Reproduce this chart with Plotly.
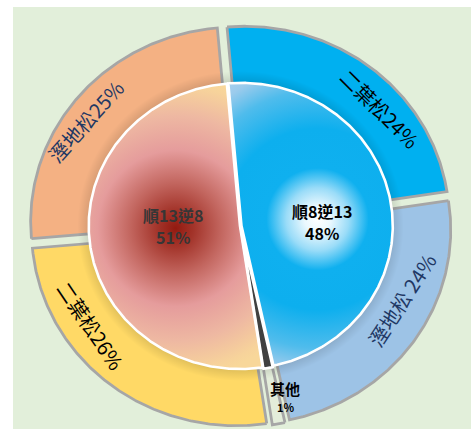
import numpy as np
import plotly.graph_objects as go

# ---------------- data ----------------
outer_names = ["二葉松", "溼地松", "其他", "二葉松", "溼地松"]
outer_values = [24, 24, 1, 26, 25]
outer_text = ["二葉松24%", "溼地松 24%", "", "二葉松26%", "溼地松25%"]
inner_names = ["順8逆13", "其他", "順13逆8"]
inner_values = [48, 1, 51]
inner_pct = ["48%", "1%", "51%"]

# ---------------- style / geometry ----------------
outer_colors = ["#00B0F0", "#9DC3E6", "#E3EDDA", "#FFD966", "#F4B183"]
outer_text_colors = ["#000000", "#1F3864", "#000000", "#000000", "#1F3864"]
outer_text_angles = [45, -57, 0, 56, -48]
outer_text_pos = [(380, 108), (401, 300), (0, 0), (91, 325), (85, 121)]
inner_name_pos = [(322, 211), (285, 388), (173, 215)]
inner_pct_pos = [(322, 233), (285, 407), (173, 237)]
inner_text_colors = ["#000000", "#000000", "#363636"]
inner_name_sizes = [16, 15, 16]
inner_pct_sizes = [16, 11, 16]

START = -5.0
CX, CY = 240.5, 226.0
ORX, ORY = 204.5, 194.5
IRX, IRY = 151.3, 143.0
PULL_OUT = 7.0
FONT = "Noto Sans CJK TC"

red_cs = [[0, "#931A10"], [0.12, "#A3342A"], [0.3, "#C2655E"], [0.52, "#E59C9C"],
          [0.75, "#EEB8A2"], [0.95, "#F7D39B"], [1, "#F8D79A"]]
blue_cs = [[0, "#FFFFFF"], [0.08, "#EAF8FE"], [0.19, "#9ADCF8"], [0.31, "#0FB0EF"],
           [0.55, "#0DAFEE"], [0.78, "#4FBCEC"], [0.92, "#9BCBEC"], [1, "#A9D0EE"]]


def edges(values):
    v = np.asarray(values, float)
    e = START + np.concatenate([[0], np.cumsum(v)]) / v.sum() * 360.0
    return e[:-1], e[1:]


def arc(rx, ry, a0, a1, ox=0.0, oy=0.0):
    n = max(int(abs(a1 - a0) * 2) + 2, 4)
    t = np.radians(np.linspace(a0, a1, n))
    return CX + ox + rx * np.sin(t), CY + oy - ry * np.cos(t)


def offset(a0, a1, pull, rx, ry):
    m = np.radians((a0 + a1) / 2)
    return pull * np.sin(m), -pull * (ry / rx) * np.cos(m)


fig = go.Figure()

# ---------------- outer ring ----------------
o0, o1 = edges(outer_values)
for i in range(len(outer_values)):
    ox, oy = offset(o0[i], o1[i], PULL_OUT, ORX, ORY)
    xo, yo = arc(ORX, ORY, o0[i], o1[i], ox, oy)
    xi, yi = arc(ORX * 0.6, ORY * 0.6, o1[i], o0[i], ox, oy)
    xs = np.concatenate([xo, xi, xo[:1]])
    ys = np.concatenate([yo, yi, yo[:1]])
    fig.add_trace(go.Scatter(x=xs, y=ys, mode="lines", fill="toself",
                             fillcolor=outer_colors[i],
                             line=dict(color="#A6A6A6", width=2.8),
                             hoverinfo="skip", name=outer_names[i]))

# soft shadow around the inner pie
xsd, ysd = arc(IRX + 12, IRY + 12, 0, 360)
fig.add_trace(go.Scatter(x=xsd, y=ysd, mode="lines", fill="toself",
                         line=dict(width=0),
                         fillgradient=dict(type="radial", colorscale=[
                             [0, "rgba(0,0,0,0.13)"], [0.92, "rgba(0,0,0,0.13)"],
                             [1, "rgba(0,0,0,0)"]]),
                         hoverinfo="skip"))

# ---------------- inner pie ----------------
i0, i1 = edges(inner_values)
inner_pulls = [1.0, 1.5, 0.5]
grad = {0: (blue_cs, 165.0, (7.0, -5.0)), 2: (red_cs, 150.0, (0.0, 2.0))}
outlines = []
for i in range(len(inner_values)):
    ox, oy = offset(i0[i], i1[i], inner_pulls[i], IRX, IRY)
    xa, ya = arc(IRX, IRY, i0[i], i1[i], ox, oy)
    ax, ay = CX + ox, CY + oy
    xs = np.concatenate([[ax], xa, [ax]])
    ys = np.concatenate([[ay], ya, [ay]])
    outlines.append((xs, ys))
    if i in grad:
        cs, H, (dx, dy) = grad[i]
        gx = (xs.min() + xs.max()) / 2 + dx
        gy = (ys.min() + ys.max()) / 2 + dy
        # zero-area spikes make the fill's bounding box a square centred on (gx, gy)
        xs2 = np.concatenate([xs, [gx - H, ax, gx + H, ax]])
        ys2 = np.concatenate([ys, [gy - H, ay, gy + H, ay]])
        fig.add_trace(go.Scatter(x=xs2, y=ys2, mode="lines", fill="toself",
                                 line=dict(width=0, simplify=False),
                                 fillgradient=dict(type="radial", colorscale=cs),
                                 hoverinfo="skip", name=inner_names[i]))
    else:
        fig.add_trace(go.Scatter(x=xs, y=ys, mode="lines", fill="toself",
                                 fillcolor="#404040", line=dict(width=0),
                                 hoverinfo="skip", name=inner_names[i]))

for xs, ys in outlines:
    fig.add_trace(go.Scatter(x=xs, y=ys, mode="lines",
                             line=dict(color="white", width=2.6),
                             hoverinfo="skip"))

# ---------------- labels ----------------
ann = []
for i in range(len(outer_values)):
    if not outer_text[i]:
        continue
    x, y = outer_text_pos[i]
    ann.append(dict(x=x, y=y, xref="x", yref="y", text=outer_text[i], showarrow=False,
                    textangle=outer_text_angles[i],
                    font=dict(family=FONT, size=20, color=outer_text_colors[i])))

for i in range(len(inner_values)):
    nx, ny = inner_name_pos[i]
    px, py = inner_pct_pos[i]
    ann.append(dict(x=nx, y=ny, xref="x", yref="y", showarrow=False,
                    text=f"<b>{inner_names[i]}</b>",
                    font=dict(family=FONT, size=inner_name_sizes[i],
                              color=inner_text_colors[i])))
    ann.append(dict(x=px, y=py, xref="x", yref="y", showarrow=False,
                    text=f"<b>{inner_pct[i]}</b>",
                    font=dict(family=FONT, size=inner_pct_sizes[i],
                              color=inner_text_colors[i])))

fig.update_layout(
    width=471, height=429,
    margin=dict(l=13, r=0, t=7, b=0),
    paper_bgcolor="white",
    plot_bgcolor="#E2EFDA",
    showlegend=False,
    xaxis=dict(range=[13, 471], visible=False, fixedrange=True),
    yaxis=dict(range=[429, 7], visible=False, fixedrange=True),
    annotations=ann,
)

fig.write_html("out.html")
